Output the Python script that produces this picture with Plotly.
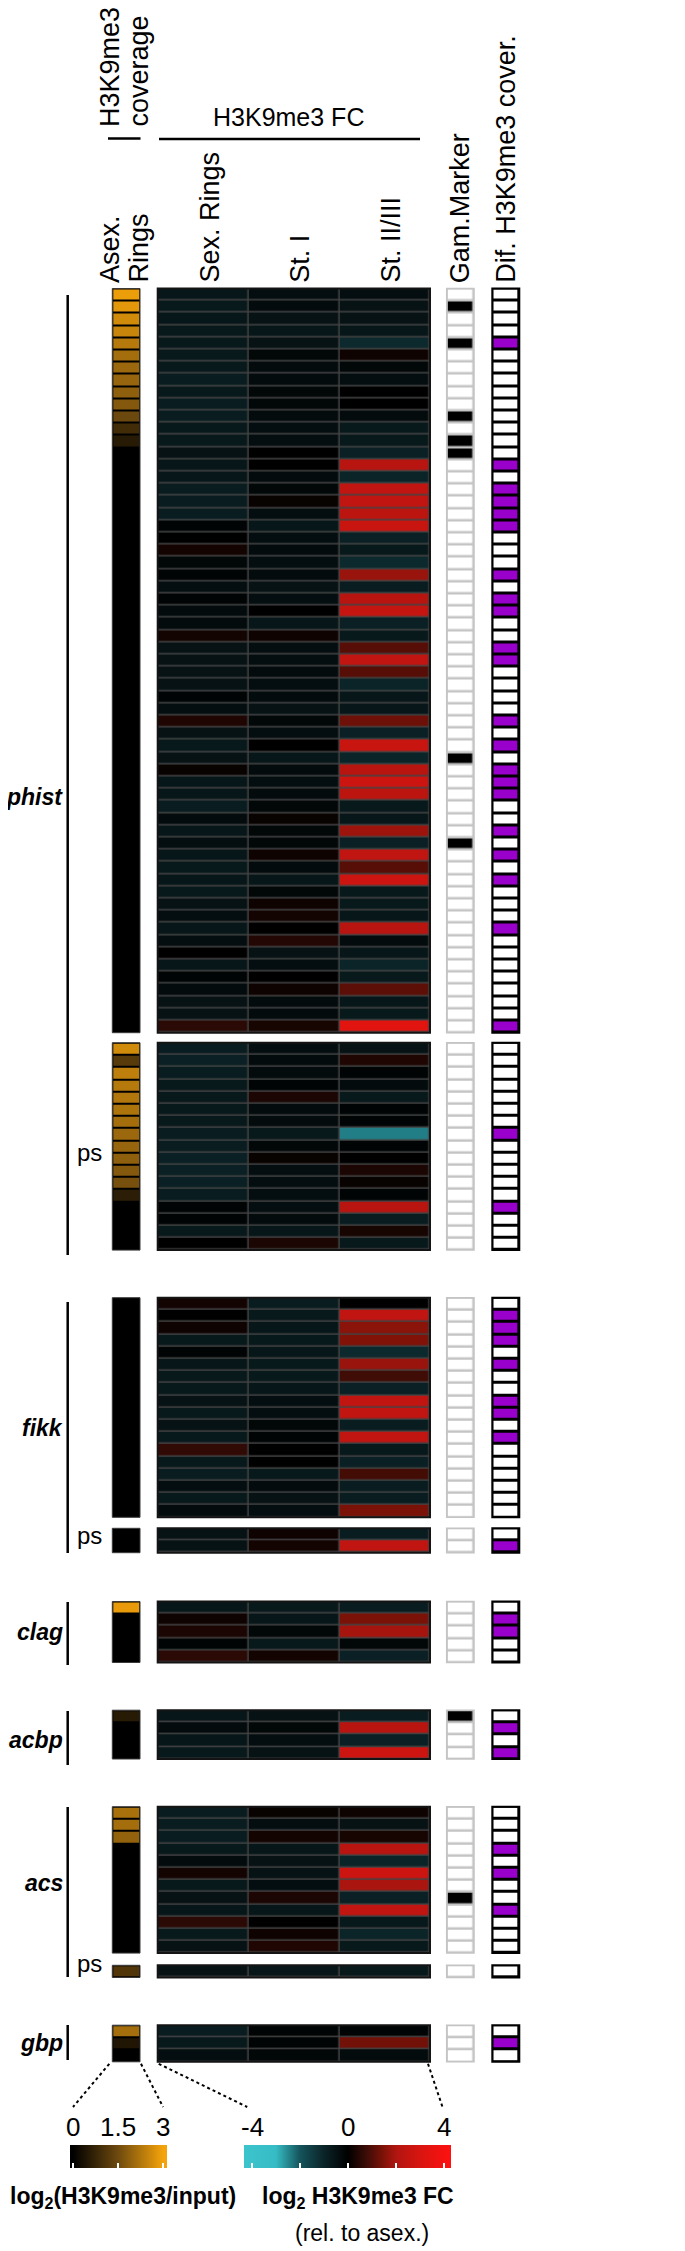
import plotly.graph_objects as go

# ------------------------------------------------------------------ data
fc_columns = ["Sex. Rings", "St. I", "St. II/III"]
cov_ticks = [0, 1.5, 3]
fc_ticks = [-4, -2, 0, 2, 4]
fc_tick_labels = [-4, 0, 4]

# phist (61 genes)
phist_cov = [2.9, 2.8, 2.6, 2.5, 2.3, 2.1, 2.0, 1.95, 1.85, 1.75, 1.45, 0.9, 0.55,
             0, 0, 0, 0, 0, 0, 0, 0, 0, 0, 0, 0, 0, 0, 0, 0,
             0, 0, 0, 0, 0, 0, 0, 0, 0, 0, 0, 0, 0, 0, 0, 0,
             0, 0, 0, 0, 0, 0, 0, 0, 0, 0, 0, 0, 0, 0, 0, 0]
phist_sex = [-0.6, -0.7, -0.6, -0.7, -0.7, -0.7, -0.7, -0.8, -0.7, -0.8,
             -0.8, -0.7, -0.7, -0.5, -0.6, -0.6, -0.8, -0.8, -0.8, -0.1,
             0.0, 0.25, -0.2, -0.1, -0.4, -0.1, -0.3, -0.3, 0.25, -0.5,
             -0.5, -0.5, -0.5, -0.1, -0.4, 0.4, -0.5, -0.7, -0.5, 0.1,
             -0.6, -0.6, -0.8, -0.3, -0.6, -0.4, -0.6, -0.7, -0.6, -0.7,
             -0.5, -0.4, -0.6, -0.4, 0.0, -0.6, -0.1, -0.3, -0.5, -0.5, 0.55]
phist_st1 = [-0.4, -0.3, -0.5, -0.6, -0.5, -0.2, -0.3, -0.3, -0.2, -0.2,
             -0.3, -0.4, -0.4, 0.0, 0.0, -0.3, -0.2, 0.1, -0.4, -0.6,
             -0.4, -0.3, -0.4, -0.3, -0.5, -0.4, 0.0, -0.6, 0.2, -0.4,
             -0.4, -0.3, -0.4, -0.3, -0.5, -0.2, -0.4, 0.0, -0.6, -0.3,
             -0.4, -0.3, -0.2, 0.1, -0.2, -0.2, 0.2, -0.3, -0.6, -0.2,
             0.2, 0.25, 0.0, 0.45, -0.5, -0.4, 0.0, 0.2, -0.3, -0.3, 0.3]
phist_st23 = [-0.4, -0.5, -0.5, -0.6, -1.1, 0.2, -0.2, -0.4, 0.0, 0.0,
              -0.3, -0.7, -0.7, -0.9, 2.2, -1.0, 2.4, 2.4, 2.3, 2.6,
              -0.9, -0.7, -1.1, 1.75, -0.8, 2.2, 2.5, -0.9, -0.7, 1.05,
              2.4, 1.05, -1.0, -0.6, -0.6, 1.3, -0.9, 2.6, -1.0, 2.2,
              2.7, 2.3, -0.7, -0.6, 1.8, -0.9, 2.4, 1.05, 2.7, -0.7,
              -0.7, -0.6, 2.2, -0.3, -0.6, -1.0, -0.7, 1.1, -0.6, -0.7, 3.3]
phist_gam_rows = [2, 5, 11, 13, 14, 39, 46]
phist_dif_rows = [5, 15, 17, 18, 19, 20, 24, 26, 27, 30, 31, 36, 38, 40, 41, 42,
                  45, 47, 49, 53, 61]

# phist pseudogenes (17)
phist_ps_cov = [2.6, 1.2, 2.4, 2.3, 2.25, 2.2, 2.1, 2.0, 1.95, 1.85, 1.75, 1.6, 0.6,
                0, 0, 0, 0]
phist_ps_sex = [-0.8, -0.9, -0.8, -0.7, -0.7, -0.7, -0.7, -0.8, -0.8, -0.9, -0.9,
                -0.9, -0.8, -0.1, -0.1, -0.7, 0.0]
phist_ps_st1 = [-0.4, -0.3, -0.3, -0.1, 0.35, -0.3, -0.3, -0.7, -0.2, 0.1, -0.4,
                -0.4, -0.4, -0.4, -0.3, -0.6, 0.35]
phist_ps_st23 = [-0.5, 0.4, -0.1, -0.3, -0.7, -0.1, -0.1, -2.4, -0.1, 0.0, 0.35,
                 0.1, -0.1, 2.2, -0.8, 0.3, -0.7]
phist_ps_gam_rows = []
phist_ps_dif_rows = [8, 14]

# fikk (18)
fikk_cov = [0, 0, 0, 0, 0, 0, 0, 0, 0, 0, 0, 0, 0, 0, 0, 0, 0, 0]
fikk_sex = [0.25, 0.0, 0.2, -0.7, -0.1, -0.6, -0.7, -0.7, -0.5, -0.7, -0.5, -0.7,
            0.65, -0.7, -0.8, -0.4, -0.7, -0.3]
fikk_st1 = [-0.8, -0.7, -0.6, -0.7, -0.6, -0.7, -0.7, -0.6, -0.4, -0.4, -0.2, -0.1,
            0.0, 0.0, -0.7, -0.3, -0.5, -0.4]
fikk_st23 = [0.0, 2.4, 1.6, 1.5, -1.1, 1.75, 0.8, -0.9, 2.4, 2.4, -0.8, 2.4,
             -0.7, -0.9, 0.85, -0.8, -0.8, 1.45]
fikk_gam_rows = []
fikk_dif_rows = [2, 3, 4, 6, 9, 10, 12]

# fikk pseudogenes (2)
fikk_ps_cov = [0, 0]
fikk_ps_sex = [-0.5, -0.5]
fikk_ps_st1 = [0.2, 0.25]
fikk_ps_st23 = [-0.8, 2.4]
fikk_ps_gam_rows = []
fikk_ps_dif_rows = [2]

# clag (5)
clag_cov = [2.85, 0, 0, 0, 0]
clag_sex = [-0.6, 0.2, 0.35, -0.1, 0.55]
clag_st1 = [-0.7, -0.6, -0.2, -0.7, 0.25]
clag_st23 = [-0.8, 1.45, 1.9, -0.2, -0.9]
clag_gam_rows = []
clag_dif_rows = [2, 3]

# acbp (4)
acbp_cov = [0.55, 0, 0, 0]
acbp_sex = [-0.6, -0.3, -0.6, -0.7]
acbp_st1 = [-0.5, -0.2, -0.4, -0.5]
acbp_st23 = [-0.8, 2.2, -0.9, 2.7]
acbp_gam_rows = [1]
acbp_dif_rows = [2, 4]

# acs (12)
acs_cov = [2.15, 2.1, 1.9, 0, 0, 0, 0, 0, 0, 0, 0, 0]
acs_sex = [-0.8, -0.8, -0.8, -0.7, -0.3, 0.25, -0.7, -0.5, -0.6, 0.55, -0.7, -0.5]
acs_st1 = [0.1, -0.4, 0.25, -0.6, -0.5, -0.5, -0.4, 0.35, -0.6, 0.0, 0.2, 0.4]
acs_st23 = [0.2, -0.5, 0.3, 2.2, -1.0, 2.7, 1.95, -0.9, 2.4, -0.7, -1.0, -0.7]
acs_gam_rows = [8]
acs_dif_rows = [4, 6, 9]

# acs pseudogene (1)
acs_ps_cov = [1.1]
acs_ps_sex = [-0.5]
acs_ps_st1 = [-0.6]
acs_ps_st23 = [-0.7]
acs_ps_gam_rows = []
acs_ps_dif_rows = []

# gbp (3)
gbp_cov = [2.1, 0.45, 0]
gbp_sex = [-0.8, -0.7, -0.4]
gbp_st1 = [-0.1, -0.1, -0.2]
gbp_st23 = [-0.1, 1.35, -0.3]
gbp_gam_rows = []
gbp_dif_rows = [2]

# ------------------------------------------------------------------ layout geometry (page pixels)
W, H = 685, 2251
OFF = 8                      # page offset of the figure (body margin)
PITCH = 12.2
COV_X = (112.3, 140.0)
FC_X = (157.7, 430.0)
GAM_X = (446.7, 474.0)
DIF_X = (492.3, 519.3)
BRACKET_X = 67.7

blocks = [
    dict(top=288.5, cov=phist_cov, sex=phist_sex, st1=phist_st1,
         st23=phist_st23, gam=phist_gam_rows, dif=phist_dif_rows),
    dict(top=1042.7, cov=phist_ps_cov, sex=phist_ps_sex, st1=phist_ps_st1,
         st23=phist_ps_st23, gam=phist_ps_gam_rows, dif=phist_ps_dif_rows),
    dict(top=1297.7, cov=fikk_cov, sex=fikk_sex, st1=fikk_st1,
         st23=fikk_st23, gam=fikk_gam_rows, dif=fikk_dif_rows),
    dict(top=1528.3, cov=fikk_ps_cov, sex=fikk_ps_sex, st1=fikk_ps_st1,
         st23=fikk_ps_st23, gam=fikk_ps_gam_rows, dif=fikk_ps_dif_rows),
    dict(top=1601.5, cov=clag_cov, sex=clag_sex, st1=clag_st1,
         st23=clag_st23, gam=clag_gam_rows, dif=clag_dif_rows),
    dict(top=1710.2, cov=acbp_cov, sex=acbp_sex, st1=acbp_st1,
         st23=acbp_st23, gam=acbp_gam_rows, dif=acbp_dif_rows),
    dict(top=1806.7, cov=acs_cov, sex=acs_sex, st1=acs_st1,
         st23=acs_st23, gam=acs_gam_rows, dif=acs_dif_rows),
    dict(top=1965.3, cov=acs_ps_cov, sex=acs_ps_sex, st1=acs_ps_st1,
         st23=acs_ps_st23, gam=acs_ps_gam_rows, dif=acs_ps_dif_rows),
    dict(top=2025.2, cov=gbp_cov, sex=gbp_sex, st1=gbp_st1,
         st23=gbp_st23, gam=gbp_gam_rows, dif=gbp_dif_rows),
]
# family labels: (text, label y centre, bracket top, bracket bottom)
families = [
    ("phist", 797, 295, 1255),
    ("fikk", 1428, 1302, 1553),
    ("clag", 1632, 1602, 1665),
    ("acbp", 1740, 1711, 1765),
    ("acs", 1883, 1807, 1977),
    ("gbp", 2043, 2025, 2060),
]
ps_label_y = [1152, 1535, 1963]

HFONT = "Liberation Sans, Arial, Helvetica, sans-serif"
VFONT = "Liberation Sans, Arial, Helvetica, sans-serif"
HS = 23      # horizontal text size
VS = 27      # rotated header size

# colour scales (defined in value space, normalised to bar range)
COV_MIN, COV_MAX = -0.1, 3.12
cov_stops = [(-0.1, "#000000"), (0.0, "#000000"), (1.5, "#6e4a0e"), (3.0, "#f5a30a"), (3.12, "#f5a30a")]
FC_MIN, FC_MAX = -4.33, 4.3
fc_stops = [(-4.33, "#3cc4cc"), (-3.0, "#36bcc4"), (-2.0, "#15545c"), (-1.0, "#0b2428"),
            (0.0, "#000000"), (0.75, "#3a0c06"), (1.5, "#801208"), (2.0, "#b01510"),
            (3.0, "#d81510"), (4.3, "#ff1010")]


def norm_scale(stops, lo, hi):
    return [[(v - lo) / (hi - lo), c] for v, c in stops]


def px_x(p):
    return (p - OFF) / W


def px_y(p):
    return 1 - (p - OFF) / H


fig = go.Figure()
shapes = []


def rect(x0, x1, y0, y1, fill, line, lw, layer):
    shapes.append(dict(type="rect", xref="x", yref="y", x0=x0, x1=x1, y0=y0, y1=y1,
                       fillcolor=fill, line=dict(color=line, width=lw), layer=layer))


for b in blocks:
    n = len(b["cov"])
    top = b["top"]
    bot = top + n * PITCH
    yc0 = top + PITCH / 2
    # coverage column
    rect(COV_X[0], COV_X[1], top, bot, "#000000", "#000000", 0, "below")
    fig.add_trace(go.Heatmap(z=[[v] for v in b["cov"]], x0=(COV_X[0] + COV_X[1]) / 2,
                             dx=COV_X[1] - COV_X[0], y0=yc0, dy=PITCH, coloraxis="coloraxis",
                             xgap=2, ygap=2, hoverinfo="skip"))
    rect(COV_X[0], COV_X[1], top, bot, "rgba(0,0,0,0)", "#3a3a3a", 1, "above")
    # fold-change panel
    fcw = (FC_X[1] - FC_X[0]) / 3
    rect(FC_X[0], FC_X[1], top, bot, "#444444", "#444444", 0, "below")
    z = [[s, a, c] for s, a, c in zip(b["sex"], b["st1"], b["st23"])]
    fig.add_trace(go.Heatmap(z=z, x0=FC_X[0] + fcw / 2, dx=fcw, y0=yc0, dy=PITCH,
                             coloraxis="coloraxis2", xgap=1.5, ygap=1.5, hoverinfo="skip"))
    rect(FC_X[0], FC_X[1], top, bot, "rgba(0,0,0,0)", "#141414", 2, "above")
    # gametocyte marker
    rect(GAM_X[0], GAM_X[1], top, bot, "#c4c4c4", "#c4c4c4", 0, "below")
    fig.add_trace(go.Heatmap(z=[[1 if (i + 1) in b["gam"] else 0] for i in range(n)],
                             x0=(GAM_X[0] + GAM_X[1]) / 2, dx=GAM_X[1] - GAM_X[0],
                             y0=yc0, dy=PITCH, zmin=0, zmax=1,
                             colorscale=[[0, "#ffffff"], [1, "#000000"]], showscale=False,
                             xgap=2.5, ygap=2.5, hoverinfo="skip"))
    rect(GAM_X[0], GAM_X[1], top, bot, "rgba(0,0,0,0)", "#c4c4c4", 1.5, "above")
    # differential coverage
    rect(DIF_X[0], DIF_X[1], top, bot, "#000000", "#000000", 0, "below")
    fig.add_trace(go.Heatmap(z=[[1 if (i + 1) in b["dif"] else 0] for i in range(n)],
                             x0=(DIF_X[0] + DIF_X[1]) / 2, dx=DIF_X[1] - DIF_X[0],
                             y0=yc0, dy=PITCH, zmin=0, zmax=1,
                             colorscale=[[0, "#ffffff"], [1, "#9900cc"]], showscale=False,
                             xgap=3, ygap=3, hoverinfo="skip"))
    rect(DIF_X[0], DIF_X[1], top, bot, "rgba(0,0,0,0)", "#000000", 2, "above")

annotations = []


def text(x, y, s, family=HFONT, size=HS, xanchor="center", yanchor="middle", angle=0):
    annotations.append(dict(x=x, y=y, xref="x", yref="y", text=s, showarrow=False,
                            font=dict(family=family, size=size, color="black"),
                            xanchor=xanchor, yanchor=yanchor, textangle=angle, borderpad=0))


# family labels and brackets
for name, ly, y0, y1 in families:
    text(63.5, ly, "<b><i>%s</i></b>" % name, xanchor="right")
    shapes.append(dict(type="line", xref="x", yref="y", x0=BRACKET_X, x1=BRACKET_X, y0=y0, y1=y1,
                       line=dict(color="black", width=2.5)))
for ly in ps_label_y:
    text(103, ly, "ps", size=HS + 1, xanchor="right")

# column headers
text(110, 128, "H3K9me3", family=VFONT, size=VS, yanchor="bottom", angle=-90)
text(138, 128, "coverage", family=VFONT, size=VS, yanchor="bottom", angle=-90)
shapes.append(dict(type="line", xref="x", yref="y", x0=108, x1=140.5, y0=138.5, y1=138.5,
                   line=dict(color="black", width=2.5)))
text(110, 284, "Asex.", family=VFONT, size=VS, yanchor="bottom", angle=-90)
text(138, 284, "Rings", family=VFONT, size=VS, yanchor="bottom", angle=-90)
text((FC_X[0] + 420) / 2, 117, "H3K9me3 FC", size=HS + 2)
shapes.append(dict(type="line", xref="x", yref="y", x0=159, x1=420, y0=139, y1=139,
                   line=dict(color="black", width=2.5)))
fcw = (FC_X[1] - FC_X[0]) / 3
for i, lab in enumerate(fc_columns):
    text(FC_X[0] + fcw * (i + 0.5) + 6, 284, lab, family=VFONT, size=VS, yanchor="bottom", angle=-90)
text((GAM_X[0] + GAM_X[1]) / 2, 284, "Gam.Marker", family=VFONT, size=VS, yanchor="bottom", angle=-90)
text((DIF_X[0] + DIF_X[1]) / 2, 284, "Dif. H3K9me3 cover.", family=VFONT, size=VS,
     yanchor="bottom", angle=-90)

# colour bars
CB_TOP = 2145
CB_THICK = 23
COV_CB = (70.0, 166.7)
FC_CB = (244.3, 451.7)
coloraxis = dict(
    cmin=COV_MIN, cmax=COV_MAX, colorscale=norm_scale(cov_stops, COV_MIN, COV_MAX),
    colorbar=dict(orientation="h", x=px_x(COV_CB[0]), xanchor="left", y=px_y(CB_TOP), yanchor="top",
                  len=COV_CB[1] - COV_CB[0], lenmode="pixels", thickness=CB_THICK,
                  thicknessmode="pixels", xpad=0, ypad=0, outlinewidth=0,
                  ticks="inside", tickvals=cov_ticks, ticklen=5, tickwidth=1.5,
                  tickcolor="white", showticklabels=False))
coloraxis2 = dict(
    cmin=FC_MIN, cmax=FC_MAX, colorscale=norm_scale(fc_stops, FC_MIN, FC_MAX),
    colorbar=dict(orientation="h", x=px_x(FC_CB[0]), xanchor="left", y=px_y(CB_TOP), yanchor="top",
                  len=FC_CB[1] - FC_CB[0], lenmode="pixels", thickness=CB_THICK,
                  thicknessmode="pixels", xpad=0, ypad=0, outlinewidth=0,
                  ticks="inside", tickvals=fc_ticks, ticklen=5, tickwidth=1.5,
                  tickcolor="white", showticklabels=False))


def cb_x(v, cb, lo, hi):
    return cb[0] + (v - lo) / (hi - lo) * (cb[1] - cb[0])


for v in cov_ticks:
    text(cb_x(v, COV_CB, COV_MIN, COV_MAX), 2127, ("%g" % v), size=HS + 3)
for v in fc_tick_labels:
    text(cb_x(v, FC_CB, FC_MIN, FC_MAX), 2127, ("%g" % v), size=HS + 3)
text(123, 2197, "<b>log<sub>2</sub>(H3K9me3/input)</b>")
text(358, 2197, "<b>log<sub>2</sub> H3K9me3 FC</b>")
text(362, 2233, "(rel. to asex.)")

# dotted connectors from the last block to the colour bars
last = blocks[-1]
last_bot = last["top"] + len(last["cov"]) * PITCH + 2
conn_y = CB_TOP - 38
for x0, x1 in [(COV_X[0] - 3, cb_x(0, COV_CB, COV_MIN, COV_MAX)),
               (COV_X[1] + 1, cb_x(3, COV_CB, COV_MIN, COV_MAX)),
               (FC_X[0] + 1, cb_x(-4, FC_CB, FC_MIN, FC_MAX) - 5),
               (FC_X[1] - 2, cb_x(4, FC_CB, FC_MIN, FC_MAX) - 2)]:
    shapes.append(dict(type="line", xref="x", yref="y", x0=x0, x1=x1, y0=last_bot, y1=conn_y,
                       line=dict(color="black", width=2, dash="dot")))

fig.update_layout(
    width=W, height=H, margin=dict(l=0, r=0, t=0, b=0, pad=0),
    paper_bgcolor="white", plot_bgcolor="white",
    xaxis=dict(range=[OFF, OFF + W], visible=False, showgrid=False, zeroline=False, fixedrange=True),
    yaxis=dict(range=[OFF + H, OFF], visible=False, showgrid=False, zeroline=False, fixedrange=True),
    coloraxis=coloraxis, coloraxis2=coloraxis2,
    shapes=shapes, annotations=annotations, showlegend=False,
)

fig.write_html("out.html")
